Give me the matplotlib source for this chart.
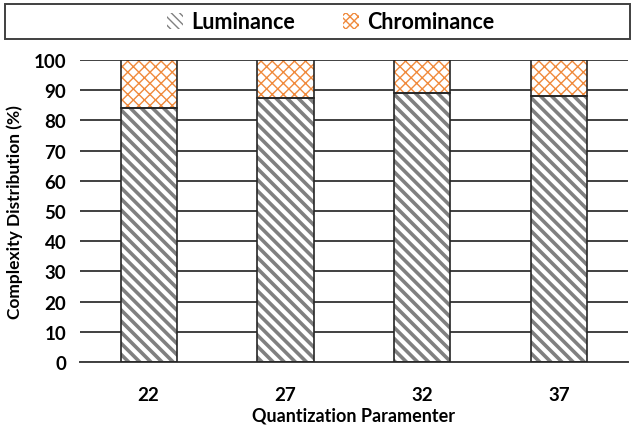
import matplotlib as mpl
import matplotlib.pyplot as plt
from matplotlib.patches import Patch, Rectangle

qp_labels = ["22", "27", "32", "37"]
luminance = [84.0, 87.5, 89.0, 88.0]
chrominance = [16.0, 12.5, 11.0, 12.0]

plt.rcParams["font.family"] = ["Lato", "DejaVu Sans"]
plt.rcParams["font.weight"] = "bold"

fig = plt.figure(figsize=(6.36, 4.27), dpi=100)
ax = fig.add_axes([0.126, 0.150, 0.861, 0.707])

x = list(range(len(qp_labels)))
width = 0.41
gray = "#808080"
orange = "#f08a3c"

# hatch layers (edgecolor drives hatch colour), then outlines on top
with mpl.rc_context({"hatch.linewidth": 2.6}):
    ax.bar(x, luminance, width, color="white", edgecolor=gray, hatch="\\\\\\",
           linewidth=0, zorder=2)
    lum_handle = Patch(facecolor="white", edgecolor=gray, hatch="\\\\\\\\", linewidth=0)
with mpl.rc_context({"hatch.linewidth": 1.0}):
    ax.bar(x, chrominance, width, bottom=luminance, color="white", edgecolor=orange,
           hatch="xxx", linewidth=0, zorder=2)
    chr_handle = Patch(facecolor="white", edgecolor=orange, hatch="xxxx", linewidth=0)
ax.bar(x, luminance, width, fill=False, edgecolor="#262626", linewidth=1.2, zorder=3)
ax.bar(x, chrominance, width, bottom=luminance, fill=False, edgecolor="#262626",
       linewidth=1.2, zorder=3)

ax.set_xlim(-0.5, len(qp_labels) - 0.5)
ax.set_ylim(0, 100)
ax.set_yticks(range(0, 101, 10))
ax.set_xticks(x)
ax.set_xticklabels(qp_labels)
ax.yaxis.grid(True, color="#404040", linewidth=1.4, zorder=0)
ax.set_axisbelow(True)
for side in ("top", "right", "left"):
    ax.spines[side].set_visible(False)
ax.spines["bottom"].set_color("#404040")
ax.spines["bottom"].set_linewidth(1.4)
ax.tick_params(length=0, labelsize=13.5)
ax.tick_params(axis="y", pad=10)
ax.tick_params(axis="x", pad=17)
for lab in ax.get_xticklabels() + ax.get_yticklabels():
    lab.set_fontweight("bold")
ax.set_xlabel("Quantization Paramenter", fontsize=13, fontweight="bold", labelpad=3)
ax.set_ylabel("Complexity Distribution (%)", fontsize=12.5, fontweight="bold", labelpad=8)

# legend box across the top
fig.patches.append(Rectangle((0.008, 0.906), 0.983, 0.082, transform=fig.transFigure,
                             fill=False, edgecolor="#404040", linewidth=1.4))
fig.legend([lum_handle, chr_handle], ["Luminance", "Chrominance"], loc="center",
           bbox_to_anchor=(0.52, 0.947), ncol=2, frameon=False,
           prop={"size": 15.5, "weight": "bold"}, handlelength=0.75, handleheight=0.75,
           handletextpad=0.4, columnspacing=2.2)

fig.savefig("out.png", dpi=100)
